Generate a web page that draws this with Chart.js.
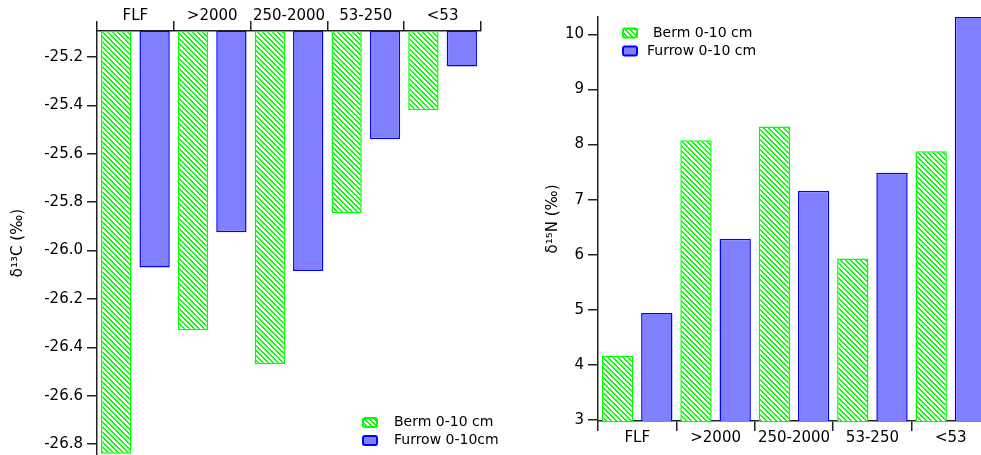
<!DOCTYPE html>
<html>
<head>
<meta charset="utf-8">
<script src="https://cdn.jsdelivr.net/npm/chart.js@4.4.0/dist/chart.umd.min.js"></script>
<style>
    html, body { margin: 0; padding: 0; background: #fff; overflow: hidden; width: 981px; height: 455px; }
    #left { position: absolute; left: 0; top: 0; }
    #right { position: absolute; left: 540px; top: 0; }
</style>
</head>
<body>
<canvas id="left" width="540" height="455"></canvas>
<canvas id="right" width="460" height="455"></canvas>
<script>
// size fractions (µm) and the two series for each panel
const fractions = ['FLF', '>2000', '250-2000', '53-250', '<53'];
const bermC = [-26.84, -26.33, -26.47, -25.845, -25.42];
const furrowC = [-26.07, -25.925, -26.085, -25.54, -25.24];
const bermN = [4.16, 8.08, 8.33, 5.93, 7.88];
const furrowN = [4.94, 6.29, 7.16, 7.49, 10.32];
const ticksC = [-25.2, -25.4, -25.6, -25.8, -26.0, -26.2, -26.4, -26.6, -26.8];
const ticksN = [3, 4, 5, 6, 7, 8, 9, 10];

const FAMILY = '"DejaVu Sans", Verdana, sans-serif';
const FONT = { family: FAMILY, size: 15 };
const LEGEND_SIZE = 14;
const INK = '#222';

function hatch() {
    const c = document.createElement('canvas');
    c.width = c.height = 5;
    const g = c.getContext('2d');
    g.fillStyle = '#fff';
    g.fillRect(0, 0, 5, 5);
    g.fillStyle = '#00ff00';
    for (let i = 0; i < 5; i++) {
        g.fillRect(i, i, 1, 1);
        g.fillRect((i + 1) % 5, i, 1, 1);
    }
    return g.createPattern(c, 'repeat');
}

// legend drawn inside the plot, like the original
const insetLegend = {
    id: 'insetLegend',
    afterDraw(chart, args, opts) {
        const ctx = chart.ctx;
        ctx.save();
        ctx.font = `${LEGEND_SIZE}px ${FAMILY}`;
        ctx.textBaseline = 'middle';
        chart.data.datasets.forEach((ds, i) => {
            const y = opts.y + i * opts.gap;
            ctx.beginPath();
            ctx.roundRect(opts.x, y - 4.5, 14, 9, 2);
            ctx.fillStyle = ds.backgroundColor;
            ctx.fill();
            ctx.lineWidth = 2;
            ctx.strokeStyle = ds.borderColor;
            ctx.stroke();
            ctx.fillStyle = '#000';
            ctx.fillText(ds.label, opts.textX[i], y);
        });
        ctx.restore();
    }
};

function axisX(position, padding, height) {
    return {
        position,
        grid: { offset: true, drawOnChartArea: false, tickLength: 10, color: INK, lineWidth: 1.5 },
        border: { color: INK, width: 1.5 },
        ticks: { font: FONT, color: '#000', padding, maxRotation: 0, autoSkip: false },
        afterFit(s) { s.height = height; s.paddingLeft = 0; s.paddingRight = 0; }
    };
}

function axisY(min, max, list, title, titlePad, width, digits) {
    return {
        min, max,
        grid: { drawOnChartArea: false, tickLength: 10, color: INK, lineWidth: 1.5 },
        border: { color: INK, width: 1.5 },
        ticks: { font: FONT, color: '#000', padding: 4, callback: v => v.toFixed(digits) },
        afterBuildTicks(s) { s.ticks = list.map(v => ({ value: v })); },
        title: { display: true, text: title, font: FONT, color: '#000', padding: { top: titlePad, bottom: 0 } },
        afterFit(s) { s.width = width; s.paddingTop = 0; s.paddingBottom = 0; }
    };
}

const bermFill = hatch();
const cTop = -25.093;

function bars(label, data, fill, stroke, base) {
    const ds = { label, data, backgroundColor: fill, borderColor: stroke, borderWidth: 1.5, borderSkipped: false };
    if (base !== undefined) ds.base = base;
    return ds;
}

new Chart(document.getElementById('left'), {
    type: 'bar',
    data: {
        labels: fractions,
        datasets: [
            bars('Berm 0-10 cm', bermC, bermFill, '#00ff00', cTop),
            bars('Furrow 0-10cm', furrowC, '#8080ff', '#0000ff', cTop)
        ]
    },
    options: {
        responsive: false,
        animation: false,
        categoryPercentage: 1.0,
        barPercentage: 0.79,
        layout: { padding: { top: 0, right: 59, bottom: 0, left: 0 } },
        scales: {
            x: axisX('top', -4, 31),
            y: axisY(-26.845, cTop, ticksC, 'δ¹³C (‰)', 9, 97, 1)
        },
        plugins: {
            legend: { display: false },
            tooltip: { enabled: false },
            insetLegend: { x: 363, y: 422.5, gap: 18, textX: [394, 394] }
        }
    },
    plugins: [insetLegend]
});

new Chart(document.getElementById('right'), {
    type: 'bar',
    data: {
        labels: fractions,
        datasets: [
            bars('Berm 0-10 cm', bermN, bermFill, '#00ff00'),
            bars('Furrow 0-10 cm', furrowN, '#8080ff', '#0000ff')
        ]
    },
    options: {
        responsive: false,
        animation: false,
        categoryPercentage: 1.0,
        barPercentage: 0.8,
        layout: { padding: { top: 17, right: 10, bottom: 0, left: 0 } },
        scales: {
            x: axisX('bottom', -2, 34),
            y: axisY(2.975, 10.32, ticksN, 'δ¹⁵N (‰)', 4, 58, 0)
        },
        plugins: {
            legend: { display: false },
            tooltip: { enabled: false },
            insetLegend: { x: 83, y: 33, gap: 18, textX: [113, 107] }
        }
    },
    plugins: [insetLegend]
});
</script>
</body>
</html>
